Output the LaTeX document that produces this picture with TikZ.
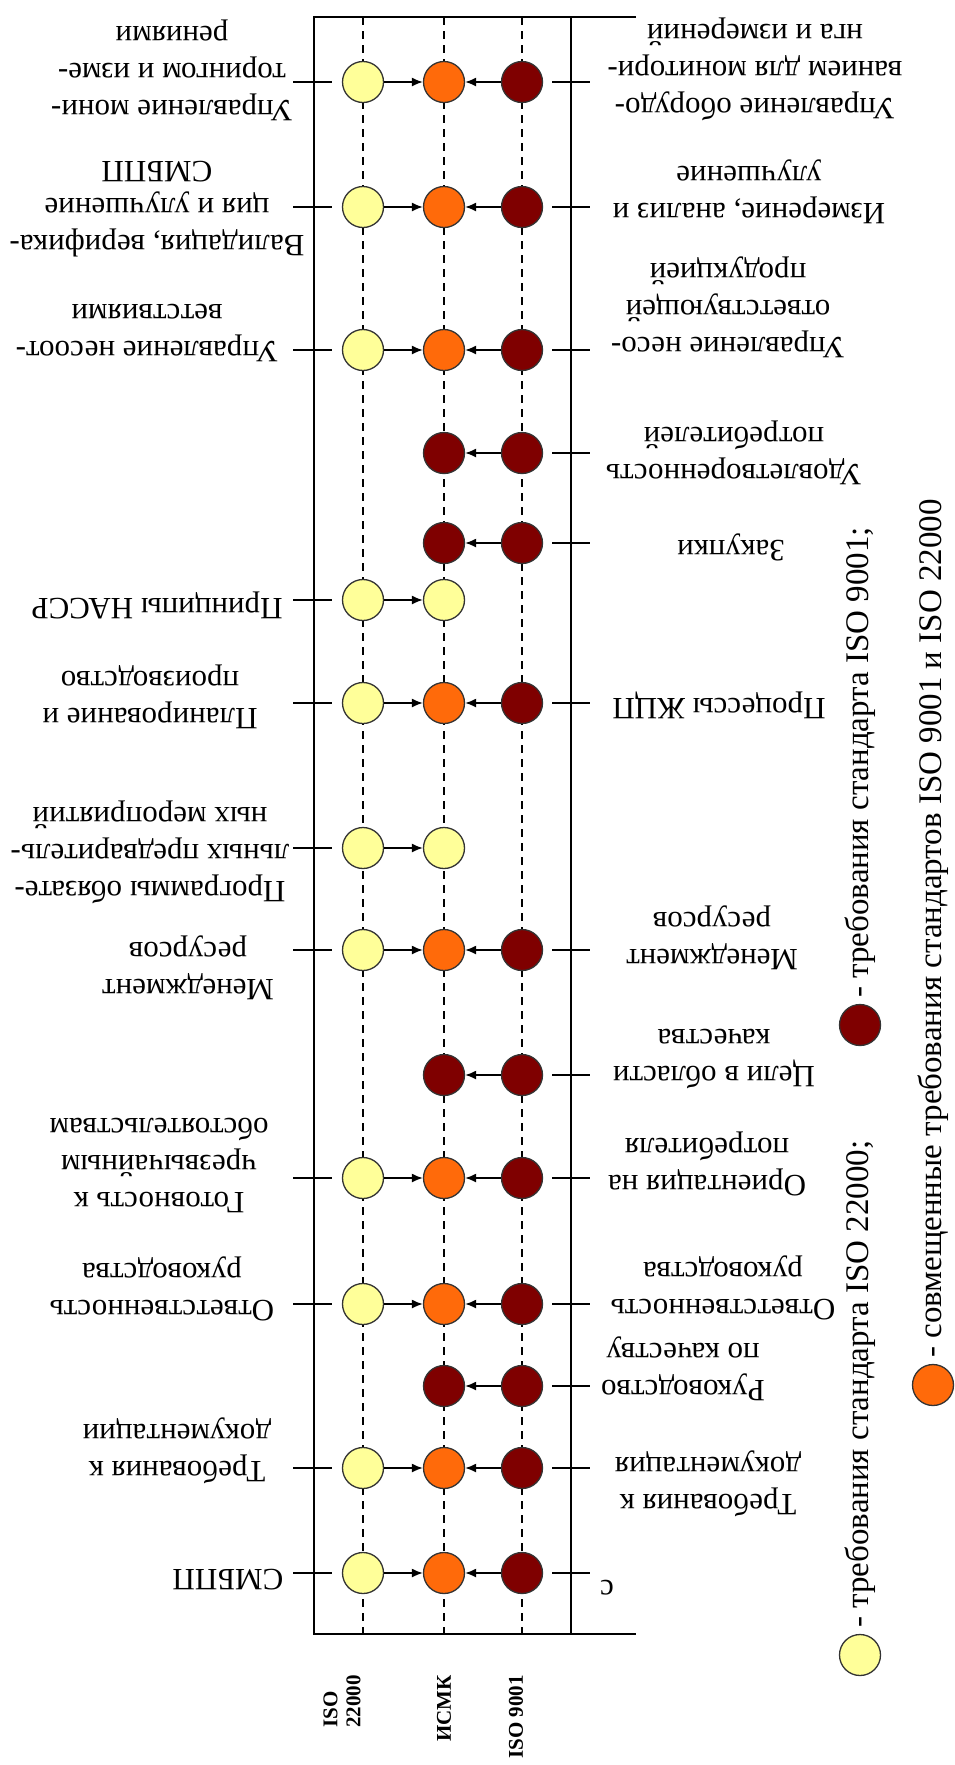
\documentclass[tikz,border=0pt]{standalone}
\usepackage{fontspec}
\setmainfont{Liberation Serif}
\usetikzlibrary{positioning, arrows.meta}
\definecolor{isoyellow}{HTML}{FFFF99}
\definecolor{isoorange}{HTML}{FF6A0A}
\definecolor{isored}{HTML}{7F0000}
\tikzset{
req/.style = {circle, draw = black!80, line width = 1.3pt, minimum size = 41pt,
   inner sep = 0pt},
req22/.style = {req, fill = isoyellow},
reqmix/.style = {req, fill = isoorange},
req9/.style = {req, fill = isored},
link/.style = {-{Latex[length = 11pt, width = 9pt]}, line width = 1.5pt},
guide/.style = {line width = 1.2pt, dash pattern = on 8pt off 6pt},
boxline/.style = {line width = 1.6pt},
tickline/.style = {line width = 1.6pt},
item/.style = {rotate = 180, align = center, inner sep = 0pt,
   font = \fontsize{31}{37}\selectfont},
legendtext/.style = {rotate = 90, anchor = west, inner sep = 0pt,
   font = \fontsize{33}{38}\selectfont},
colname/.style = {rotate = 90, anchor = east, align = left, inner sep = 0pt,
   font = \bfseries\fontsize{21}{23}\selectfont}
}

\begin{document}
\begin{tikzpicture}[x = 1pt, y = -1pt]
\useasboundingbox (0,0) rectangle (954,1765);

%% Frame and guides
\draw [boxline] (636,17) -- (314,17) -- (314,1634) -- (636,1634);
\draw [boxline] (571,17) -- (571,1634);
\foreach \x in {363, 444, 522}
   \draw [guide] (\x,17) -- (\x,1634);

%% Requirements of both standards
\foreach \i/\y in {1/82, 2/207, 3/350, 7/703, 9/950, 11/1178, 12/1304, 14/1468, 15/1573} {
   \draw [tickline] (293,\y) -- (332,\y);
   \draw [tickline] (552,\y) -- (590,\y);
   \node [req22] (s22-\i) at (363,\y) {};
   \node [reqmix] (ismk-\i) at (444,\y) {};
   \node [req9] (s9-\i) at (522,\y) {};
   \draw [link] (s22-\i) -- (ismk-\i);
   \draw [link] (s9-\i) -- (ismk-\i);
}

%% ISO 9001 only
\foreach \i/\y in {4/453, 5/543, 10/1075, 13/1386} {
   \draw [tickline] (552,\y) -- (590,\y);
   \node [req9] (s9-\i) at (522,\y) {};
   \node [req9] (ismk-\i) at (444,\y) {};
   \draw [link] (s9-\i) -- (ismk-\i);
}

%% ISO 22000 only
\foreach \i/\y in {6/600, 8/848} {
   \draw [tickline] (293,\y) -- (332,\y);
   \node [req22] (s22-\i) at (363,\y) {};
   \node [req22] (ismk-\i) at (444,\y) {};
   \draw [link] (s22-\i) -- (ismk-\i);
}

%% ISO 22000 items
\foreach \i/\x/\y/\t in {
   1/172/70/{Управление мони-\\торингом и изме-\\рениями},
   2/157/209/{Валидация{,} верифика-\\ция и улучшение\\СМБПП},
   3/147/333/{Управление несоот-\\ветствиями},
   6/157/605/{Принципы НАССР},
   7/150/697/{Планирование и\\производство},
   8/150/852/{Программы обязате-\\льных предваритель-\\ных мероприятий},
   9/188/968/{Менеджмент\\ресурсов},
   11/159/1165/{Готовность к\\чрезвычайным\\обстоятельствам},
   12/162/1289/{Ответственность\\руководства},
   14/177/1451/{Требования к\\документации},
   15/228/1580/{СМБПП}}
   \node [item] (left-\i) at (\x,\y) {\t};

%% ISO 9001 items
\foreach \i/\x/\y/\t in {
   1/755/69/{Управление оборудо-\\ванием для монитори-\\нга и измерений},
   2/749/192/{Измерение{,} анализ и\\улучшение},
   3/728/307/{Управление несо-\\ответствующей\\продукцией},
   4/734/453/{Удовлетворенность\\потребителей},
   5/731/547/{Закупки},
   7/719/705/{Процессы ЖЦП},
   9/712/938/{Менеджмент\\ресурсов},
   10/714/1059/{Цели в области\\качества},
   11/707/1164/{Ориентация на\\потребителя},
   12/723/1288/{Ответственность\\руководства},
   13/683/1369/{Руководство\\по качеству},
   14/708/1484/{Требования к\\документация},
   15/607/1588/{с}}
   \node [item] (right-\i) at (\x,\y) {\t};

%% Column names
\node [colname] (name22) at (342,1675) {ISO\\22000};
\node [colname] (nameismk) at (444,1675) {ИСМК};
\node [colname] (name9) at (516,1675) {ISO 9001};

%% Legend
\node [req22] (key22) at (860,1655) {};
\node [above = 6pt of key22, legendtext] (key22txt) {- требования стандарта ISO 22000;};
\node [req9] (key9) at (860,1025) {};
\node [above = 6pt of key9, legendtext] (key9txt) {- требования стандарта ISO 9001;};
\node [reqmix] (keymix) at (933,1385) {};
\node [above = 6pt of keymix, legendtext] (keymixtxt)
   {- совмещенные требования стандартов ISO 9001 и ISO 22000};

\end{tikzpicture}
\end{document}
